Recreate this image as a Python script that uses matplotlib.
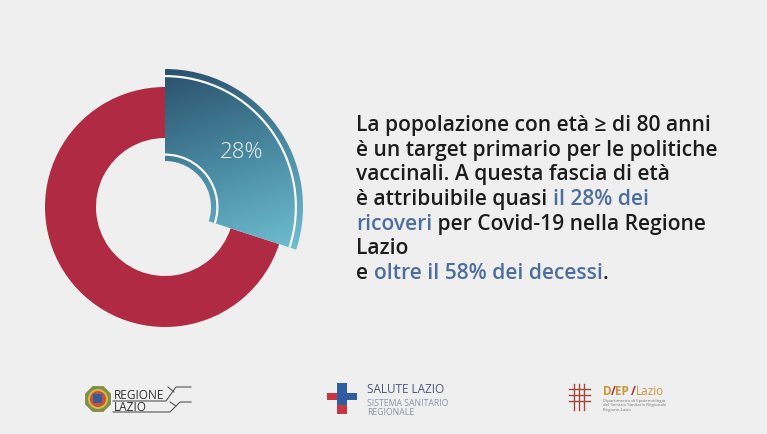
import numpy as np
import matplotlib
matplotlib.use("Agg")
import matplotlib.pyplot as plt
from matplotlib.patches import Rectangle, Circle, Wedge, RegularPolygon
from matplotlib.colors import LinearSegmentedColormap

# data
slice_names = ['>= 80 anni', 'altre eta']
slice_share = [30, 70]          # drawn sweep as measured in the picture
slice_label = '28%'

text_lines = [
    [('La popolazione con età ≥ di 80 anni', False)],
    [('è un target primario per le politiche', False)],
    [('vaccinali. A questa fascia di età', False)],
    [('è attribuibile quasi ', False), ('il 28% dei', True)],
    [('ricoveri', True), (' per Covid-19 nella Regione', False)],
    [('Lazio', False)],
    [('e ', False), ('oltre il 58% dei decessi', True), ('.', False)],
]

BG = '#efefef'
RED = '#b02a44'
DARK = '#1c1c1c'
HILITE = '#4d6e9c'
FONT = ['Open Sans', 'DejaVu Sans']

W, H = 767, 435
fig = plt.figure(figsize=(W / 100, H / 100), dpi=100, facecolor=BG)
ax = fig.add_axes([0, 0, 1, 1])
ax.set_facecolor(BG)

cx, cy = 165, H - 208
wedges, _ = ax.pie(slice_share, startangle=90, counterclock=False,
                   radius=120, center=(cx, cy), colors=['#3b6f8c', RED],
                   wedgeprops=dict(width=51, linewidth=0))
ax.set_xlim(0, W)
ax.set_ylim(0, H)
ax.set_aspect('equal')
ax.axis('off')

# blue slice: larger, with gradient and two white separating arcs
blue = wedges[0]
blue.set_radius(138)
blue.set_width(92)
cmap = LinearSegmentedColormap.from_list('tealgrad', ['#2a4f6a', '#4a8aa3', '#72c3d6'])
gy, gx = np.mgrid[0:1:200j, 0:1:200j]
grad = 0.8 * gy + 0.2 * gx
img = ax.imshow(grad, cmap=cmap, extent=(cx, cx + 140, cy - 50, cy + 140),
                origin='upper', zorder=2, aspect='auto')
img.set_clip_path(blue)
blue.set_facecolor('none')

t1, t2 = blue.theta1, blue.theta2
for r in (132, 53.5):
    ax.add_patch(Wedge((cx, cy), r, t1, t2, width=2.2,
                       facecolor='#fbfbfb', lw=0, zorder=3))

mid = np.deg2rad((t1 + t2) / 2)
ax.text(cx + 95 * np.cos(mid), cy + 95 * np.sin(mid), slice_label,
        ha='center', va='center', fontsize=16, color='#eef5f8',
        family=FONT, fontweight='light', zorder=4)

# paragraph with highlighted pieces
fig.canvas.draw()
renderer = fig.canvas.get_renderer()
x0, y_top, step = 356, H - 131, 24.7
for i, pieces in enumerate(text_lines):
    x = x0
    y = y_top - i * step
    for txt, hl in pieces:
        t = ax.text(x, y, txt, ha='left', va='baseline', fontsize=15.1,
                    family=FONT, fontweight='semibold',
                    color=HILITE if hl else DARK)
        bb = t.get_window_extent(renderer)
        x += bb.width

# logos: Regione Lazio
ax.add_patch(RegularPolygon((98, H - 400), 8, radius=14, orientation=np.pi / 8,
                            facecolor='#7f9047', lw=0))
ax.add_patch(Circle((98, H - 400), 10, facecolor='#d9b54a', lw=0))
ax.add_patch(Circle((98, H - 400), 8, facecolor='#c4553c', lw=0))
ax.add_patch(Rectangle((93, H - 404), 9, 9, facecolor='#3a5a9a', lw=0))
ax.text(114, H - 399.5, 'REGIONE', fontsize=8.6, family=FONT,
        color='#333333', va='baseline')
ax.text(114, H - 411.5, 'LAZIO', fontsize=8.6, family=FONT,
        color='#333333', va='baseline')
lk = dict(color='#555555', lw=0.8)
ax.plot([113, 166, 176, 191], [H - 402, H - 402, H - 388, H - 388], **lk)
ax.plot([168, 174], [H - 388, H - 393], **lk)
ax.plot([113, 170, 180, 191], [H - 413, H - 413, H - 403, H - 403], **lk)
ax.plot([170, 176], [H - 403, H - 407], **lk)

# logos: Salute Lazio
ax.add_patch(Rectangle((337, H - 406), 10, 22, facecolor='#2f5da0', lw=0))
ax.add_patch(Rectangle((347, H - 401), 10, 7, facecolor='#2f5da0', lw=0))
ax.add_patch(Rectangle((327, H - 401), 10, 7, facecolor='#c8363f', lw=0))
ax.add_patch(Rectangle((337, H - 415), 10, 9, facecolor='#c8363f', lw=0))
ax.text(367, H - 390, 'SALUTE LAZIO', fontsize=8.5, family=FONT,
        color='#4a5a80', va='center')
ax.text(367, H - 404, 'SISTEMA SANITARIO', fontsize=6.2, family=FONT,
        color='#8a93a8', va='center')
ax.text(367, H - 413, 'REGIONALE', fontsize=6.2, family=FONT,
        color='#8a93a8', va='center')

# logos: DEP Lazio
gk = dict(color='#a0483a', lw=1.0)
for xx in (574, 579, 584):
    ax.plot([xx, xx], [H - 385, H - 411], **gk)
for yy in (390, 396, 402):
    ax.plot([569, 590], [H - yy, H - yy], **gk)
ax.text(603, H - 392, 'D', fontsize=8.5, family=FONT, fontweight='bold',
        color='#c9963c', va='center')
ax.text(611, H - 392, '/', fontsize=8.5, family=FONT, fontweight='bold',
        color='#b0302c', va='center')
ax.text(615, H - 392, 'EP', fontsize=8.5, family=FONT, fontweight='bold',
        color='#c9963c', va='center')
ax.text(631, H - 392, '/', fontsize=8.5, family=FONT, fontweight='bold',
        color='#b0302c', va='center')
ax.text(636, H - 392, 'Lazio', fontsize=8.5, family=FONT,
        color='#c9963c', va='center')
for k, s in enumerate(['Dipartimento di Epidemiologia',
                       'del Servizio Sanitario Regionale', 'Regione Lazio']):
    ax.text(603, H - 401 - 4.5 * k, s, fontsize=3.2, family=FONT,
            color='#777777', va='center')

fig.savefig('out.png', dpi=100, facecolor=BG)
